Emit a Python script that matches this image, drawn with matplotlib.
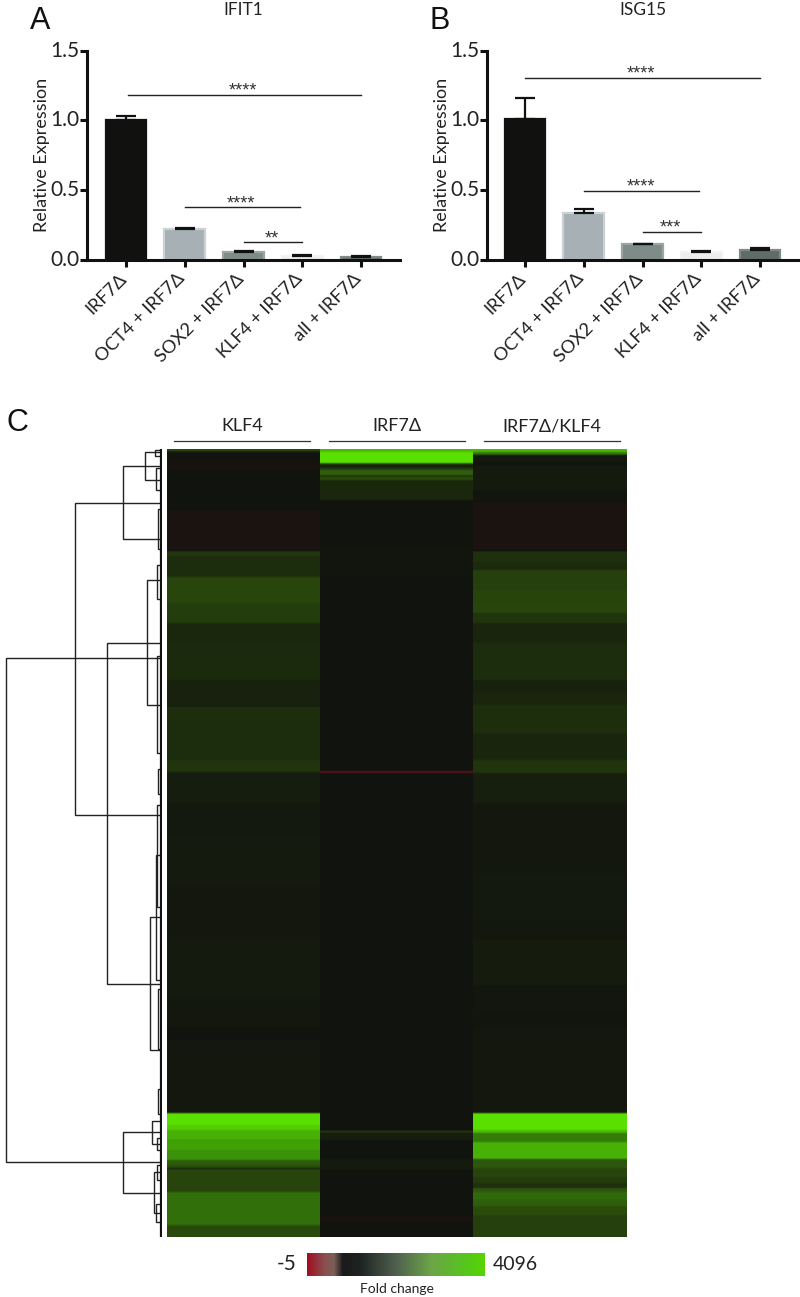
import numpy as np
import matplotlib
matplotlib.use("Agg")
import matplotlib.pyplot as plt
from matplotlib.colors import LinearSegmentedColormap, Normalize
from matplotlib.transforms import ScaledTranslation

W, H = 800, 1297

########################################################
# Data
########################################################

categories = ["IRF7Δ", "OCT4 + IRF7Δ", "SOX2 + IRF7Δ", "KLF4 + IRF7Δ", "all + IRF7Δ"]
bar_colors = ["#111210", "#a6b0b5", "#7f8b89", "#eceeee", "#5f6b69"]
edge_colors = ["#111210", "#c9d1d3", "#9aa5a3", "#f2f3f3", "#7f8a88"]

ifit1_values = [1.0, 0.222, 0.06, 0.03, 0.025]
ifit1_tops = [1.035, 0.23, 0.062, 0.036, 0.026]
ifit1_sig = [(0.03, 4.0, 1.183, "****"), (1.0, 2.96, 0.378, "****"), (2.0, 3.0, 0.127, "**")]

isg15_values = [1.013, 0.335, 0.112, 0.06, 0.074]
isg15_tops = [1.16, 0.368, 0.115, 0.062, 0.084]
isg15_sig = [(0.0, 4.0, 1.307, "****"), (1.0, 2.97, 0.495, "****"), (2.0, 3.0, 0.203, "***")]

# heatmap bands, top to bottom: (last row of the band, level)
# level 0 = no change, 1 = strongest up, below 0 = down
klf4_bands = [(2, 0.33), (3, 0.12), (11, 0.0), (21, -0.03), (61, 0.01), (102, -0.04), (107, 0.22),
              (128, 0.16), (154, 0.31), (174, 0.26), (194, 0.13), (231, 0.14), (258, 0.09), (271, 0.17),
              (311, 0.16), (323, 0.2), (354, 0.07), (388, 0.04), (401, 0.05), (434, 0.05), (491, 0.03),
              (548, 0.05), (578, 0.03), (591, 0.015), (664, 0.03), (676, 1.0), (681, 0.93), (690, 0.82),
              (701, 0.76), (711, 0.7), (716, 0.42), (719, 0.35), (720, 0.0), (743, 0.3), (776, 0.53),
              (788, 0.34)]

irf7_bands = [(3, 0.85), (14, 1.0), (15, 0.5), (19, 0.1), (21, 0.25), (26, 0.45), (28, 0.2), (31, 0.35),
              (51, 0.13), (98, 0.0), (128, 0.02), (322, 0.0), (324, -0.2), (682, 0.0), (683, 0.4),
              (691, 0.07), (710, 0.0), (721, 0.05), (766, 0.01), (773, -0.03), (788, 0.0)]

both_bands = [(3, 0.85), (5, 0.6), (6, 0.4), (13, 0.04), (16, 0.0), (41, 0.05), (53, 0.02), (102, -0.04),
              (113, 0.18), (121, 0.14), (141, 0.28), (154, 0.3), (164, 0.31), (174, 0.2), (194, 0.12),
              (231, 0.16), (244, 0.09), (256, 0.12), (284, 0.17), (311, 0.12), (324, 0.2), (354, 0.08),
              (424, 0.03), (471, 0.04), (491, 0.03), (536, 0.06), (561, 0.025), (578, 0.02), (664, 0.03),
              (681, 1.0), (684, 0.85), (693, 0.6), (710, 0.82), (719, 0.4), (728, 0.3), (734, 0.25),
              (739, 0.18), (743, 0.4), (751, 0.5), (757, 0.44), (766, 0.35), (788, 0.28)]

columns = ["KLF4", "IRF7Δ", "IRF7Δ/KLF4"]

# dendrogram merges: distance of the join, and the two rows that it connects
merge_dist = [155, 86, 38, 16, 6, 5, 54, 14, 4, 4, 4.5, 11, 5.5, 38, 9, 4, 7.5, 4, 5.5, 3, 3, 3, 3]
merge_low = [209, 54, 17, 3, 1, 19, 194, 131, 116, 207, 356, 468, 406, 683, 672, 689, 723, 716, 755, 60, 320, 540, 640]
merge_high = [713, 366, 90, 31, 7, 41, 535, 256, 150, 304, 458, 601, 531, 744, 695, 701, 764, 731, 773, 100, 345, 600, 665]

########################################################
# Helpers
########################################################

def px_axes(left, top, right, bottom):
    return fig.add_axes([left / W, 1 - bottom / H, (right - left) / W, (bottom - top) / H])

def px_text(x, y, s, **kwargs):
    fig.text(x / W, 1 - y / H, s, **kwargs)

def band_rows(bands):
    # one value per row, softened a little like the printed figure
    edges = [0] + [b[0] for b in bands]
    rows = np.repeat([b[1] for b in bands], np.diff(edges))
    return np.convolve(np.pad(rows, 1, mode="edge"), [0.25, 0.5, 0.25], mode="valid")

def bar_panel(left, right, first_tick, values, tops, sig):
    ax = px_axes(left, 50.7, right, 260)
    step = 58.75
    ax.set_xlim((left - first_tick) / step, (right - first_tick) / step)
    ax.set_ylim(0, 1.5)
    x = np.arange(len(values))
    lower = np.zeros(len(values))
    upper = np.array(tops) - np.array(values)
    ax.errorbar(x, values, yerr=[lower, upper], fmt="none", ecolor="#111111", elinewidth=1.6,
                capsize=7, capthick=1.6, zorder=3, clip_on=False)
    ax.bar(x, values, width=0.69, color=bar_colors, edgecolor=edge_colors, linewidth=1.6, zorder=2)
    for start, end, level, stars in sig:
        ax.plot([start, end], [level, level], color="#222222", lw=1.0, zorder=4)
        ax.annotate(stars, ((start + end) / 2 - 0.02, level), xytext=(0, 2.5), textcoords="offset points",
                    ha="center", va="center", fontsize=13, family="Liberation Sans", color="#333333")
    for side in ["top", "right"]:
        ax.spines[side].set_visible(False)
    for side in ["left", "bottom"]:
        ax.spines[side].set_linewidth(2.2)
        ax.spines[side].set_color("#111111")
    ax.set_yticks([0, 0.5, 1.0, 1.5], ["0.0", "0.5", "1.0", "1.5"])
    ax.set_xticks(x)
    ax.set_xticklabels(categories, rotation=45, ha="right", va="top", rotation_mode="anchor")
    ax.tick_params(axis="y", width=2.2, length=5, pad=0.5, labelsize=15, color="#111111", labelcolor="#222222")
    ax.tick_params(axis="x", width=2.2, length=5, pad=4, labelsize=13.2, color="#111111", labelcolor="#222222")
    # labels sit off their ticks, as in the figure
    shift_x = ScaledTranslation(-8 / 100, 2 / 100, fig.dpi_scale_trans)
    for label in ax.get_xticklabels():
        label.set_transform(label.get_transform() + shift_x)
    shift_y = ScaledTranslation(0, 2 / 100, fig.dpi_scale_trans)
    for label in ax.get_yticklabels():
        label.set_transform(label.get_transform() + shift_y)
    ax.set_ylabel("Relative Expression", fontsize=13, color="#222222", labelpad=0)
    ax.patch.set_alpha(0)
    return ax

########################################################
# Main
########################################################

plt.rcParams["font.family"] = ["Lato", "DejaVu Sans"]
fig = plt.figure(figsize=(W / 100, H / 100), dpi=100, facecolor="white")

bar_panel(87, 400, 126, ifit1_values, ifit1_tops, ifit1_sig)
bar_panel(486.7, 800, 525, isg15_values, isg15_tops, isg15_sig)

px_text(243, 10, "IFIT1", ha="center", va="center", fontsize=12.5, color="#222222")
px_text(643, 10, "ISG15", ha="center", va="center", fontsize=12.5, color="#222222")
for x, y, letter in [(40, 21, "A"), (440, 21, "B"), (17, 423, "C")]:
    px_text(x, y, letter, ha="center", va="center", fontsize=22, family="Liberation Sans", color="#111111")

# heatmap
heat_cmap = LinearSegmentedColormap.from_list("heat", [(0, "#a01020"), (0.2, "#1f1410"), (0.25, "#11130f"),
                                                       (0.5, "#2a4a0c"), (0.75, "#37890a"), (1, "#5ae000")])
heat_norm = Normalize(-0.33, 1)
hm = px_axes(166.5, 449, 626, 1237)
for i, bands in enumerate([klf4_bands, irf7_bands, both_bands]):
    hm.imshow(band_rows(bands).reshape(-1, 1), extent=[i, i + 1, 788, 0], aspect="auto",
              cmap=heat_cmap, norm=heat_norm, interpolation="nearest")
hm.set_xlim(0, 3)
hm.set_ylim(788, 0)
hm.axis("off")

for i, name in enumerate(columns):
    center = 242 + i * 155
    px_text(center, 426, name, ha="center", va="center", fontsize=13, color="#222222")
    fig.add_artist(plt.Line2D([(center - 68) / W, (center + 68) / W], [1 - 441 / H, 1 - 441 / H],
                              color="#333333", lw=0.9))

# dendrogram, distance grows to the left, rows shared with the heatmap
den = px_axes(0, 449, 162, 1237)
den.set_xlim(161, -1)
den.set_ylim(788, 0)
den.axis("off")
for dist, low, high in zip(merge_dist, merge_low, merge_high):
    den.plot([0, dist, dist, 0], [low, low, high, high], color="#222222", lw=1.0, solid_joinstyle="miter")
den.plot([0.5, 0.5], [0, 788], color="#111111", lw=1.6)

# colour key
key_cmap = LinearSegmentedColormap.from_list("key", [(0, "#a00f20"), (0.1, "#8a5050"), (0.15, "#7a6058"), (0.2, "#1a1a1a"),
                                                     (0.3, "#1e2422"), (0.5, "#50604f"), (0.7, "#6ca548"),
                                                     (0.9, "#55c81a"), (1, "#55d500")])
key = px_axes(307, 1253, 485, 1276)
key.imshow(np.linspace(0, 1, 256).reshape(1, -1), aspect="auto", cmap=key_cmap)
key.axis("off")
px_text(297, 1264, "-5", ha="right", va="center", fontsize=15, color="#222222")
px_text(493, 1264, "4096", ha="left", va="center", fontsize=14, color="#222222")
px_text(397, 1289, "Fold change", ha="center", va="center", fontsize=10, color="#222222")

fig.savefig("out.png", dpi=100)
